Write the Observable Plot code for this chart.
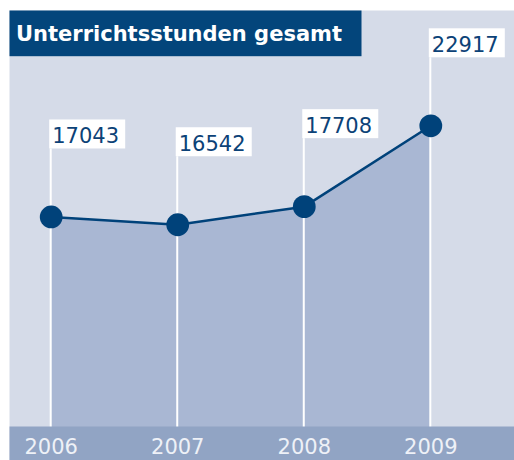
<!DOCTYPE html>
<html>
<head>
<meta charset="utf-8">
<script src="https://cdn.jsdelivr.net/npm/d3@7"></script>
<script src="https://cdn.jsdelivr.net/npm/@observablehq/plot@0.6"></script>
<style>
  html, body { margin: 0; padding: 0; background: #ffffff; }
</style>
</head>
<body>
<div id="chart"></div>
<script>
const title = "Unterrichtsstunden gesamt";
const years = [2006, 2007, 2008, 2009];
const values = [17043, 16542, 17708, 22917];

const data = years.map((year, i) => ({year, value: values[i]}));

const panel = "#d5dbe8";
const areaFill = "#a9b7d3";
const band = "#91a4c4";
const dark = "#00427a";
const textDark = "#0c4277";

const chart = Plot.plot({
  width: 514,
  height: 460,
  margin: 0,
  style: {fontFamily: "Verdana, 'DejaVu Sans', sans-serif", background: "#ffffff"},
  x: {type: "linear", domain: [2006, 2009], range: [50.7, 430.3], axis: null},
  y: {type: "linear", domain: [0, 22917], range: [481, 125.3], axis: null},
  marks: [
    Plot.frame({fill: panel, stroke: "none", insetLeft: 9, insetTop: 10}),
    Plot.areaY(data, {x: "year", y: "value", fill: areaFill}),
    Plot.rect(data, {x1: "year", x2: "year", y1: 0, y2: "value",
      insetLeft: -1, insetRight: -1, insetTop: -68, fill: "#ffffff"}),
    Plot.line(data, {x: "year", y: "value", stroke: dark, strokeWidth: 2.5}),
    Plot.dot(data, {x: "year", y: "value", r: 11.4, fill: dark, stroke: "none"}),
    Plot.frame({fill: band, stroke: "none", insetLeft: 9, insetTop: 426}),
    Plot.text(data, {x: "year", text: d => String(d.year), frameAnchor: "bottom",
      lineAnchor: "bottom", dy: -6.7, fontSize: 21, fill: "#eef1f7"}),
    Plot.rect(data, {x1: "year", x2: "year", y1: "value", y2: "value",
      insetLeft: -1.5, insetRight: -74.5, insetTop: -97, insetBottom: 68, fill: "#ffffff"}),
    Plot.text(data, {x: "year", y: "value", text: d => String(d.value),
      textAnchor: "start", lineAnchor: "bottom", dx: 1, dy: -73.5, fontSize: 21, fill: textDark}),
    Plot.frame({fill: "#03457b", stroke: "none", insetLeft: 9, insetTop: 10, insetRight: 153, insetBottom: 404.3}),
    Plot.text([title], {text: d => d, frameAnchor: "top-left", textAnchor: "start",
      lineAnchor: "bottom", dx: 15.5, dy: 40, fontSize: 21, fontWeight: "bold", fill: "#ffffff"})
  ]
});

document.getElementById("chart").appendChild(chart);
</script>
</body>
</html>
